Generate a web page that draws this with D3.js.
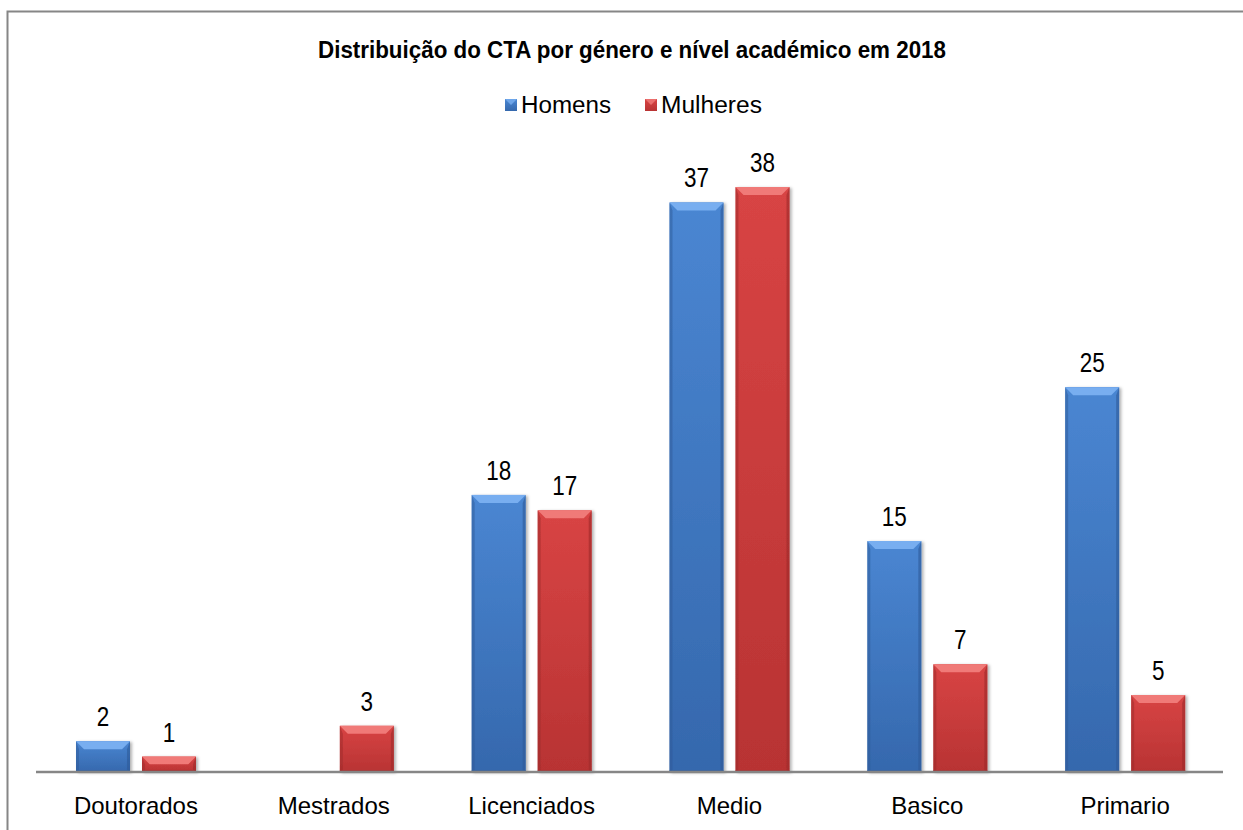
<!DOCTYPE html>
<html>
<head>
<meta charset="utf-8">
<script src="https://cdn.jsdelivr.net/npm/d3@7"></script>
<style>
  body { margin: 0; background: #fff; }
  svg { display: block; }
  text { font-family: "Liberation Sans", Arial, sans-serif; fill: #000; }
</style>
</head>
<body>
<div class="chart"></div>
<script>
var categories = ["Doutorados", "Mestrados", "Licenciados", "Medio", "Basico", "Primario"];
var seriesNames = ["Homens", "Mulheres"];
var homens = [2, null, 18, 37, 15, 25];
var mulheres = [1, 3, 17, 38, 7, 5];
var chartTitle = "Distribuição do CTA por género e nível académico em 2018";

var width = 1243, height = 830;
var margin = {top: 187, right: 19, bottom: 58, left: 37};
var baseY = height - margin.bottom;

var colors = {
  Homens:   {top: "#78aef0", mid: "#4a86d2", bot: "#3568ad", edge: "#2d5a98"},
  Mulheres: {top: "#f07a78", mid: "#d84444", bot: "#b83333", edge: "#9c2a2a"}
};

var svg = d3.select("div.chart").append("svg")
    .attr("width", width)
    .attr("height", height);

var defs = svg.append("defs");
seriesNames.forEach(function(s) {
  var g = defs.append("linearGradient")
      .attr("id", "grad_" + s)
      .attr("x1", 0).attr("y1", 0).attr("x2", 0).attr("y2", 1);
  g.append("stop").attr("offset", "0%").attr("stop-color", colors[s].mid);
  g.append("stop").attr("offset", "100%").attr("stop-color", colors[s].bot);
});
var shadow = defs.append("filter").attr("id", "shadow")
    .attr("x", "-20%").attr("y", "-20%").attr("width", "140%").attr("height", "140%");
shadow.append("feDropShadow")
    .attr("dx", 2).attr("dy", 1).attr("stdDeviation", 1.5)
    .attr("flood-color", "#000").attr("flood-opacity", 0.3);

// frame (cut at right and bottom as in the picture)
svg.append("path")
    .attr("d", "M7.5," + height + "V11.5H" + width)
    .attr("fill", "none")
    .attr("stroke", "#868686")
    .attr("stroke-width", 2);

var x0 = d3.scaleBand()
    .domain(categories)
    .range([margin.left, width - margin.right]);

var x1 = d3.scaleBand()
    .domain(seriesNames)
    .range([39, 159])
    .paddingInner(0.182);

var y = d3.scaleLinear()
    .domain([0, 38])
    .range([baseY, margin.top]);

// title
svg.append("text")
    .attr("x", 632)
    .attr("y", 58)
    .attr("text-anchor", "middle")
    .attr("textLength", 628)
    .attr("lengthAdjust", "spacingAndGlyphs")
    .style("font-size", "23px")
    .style("font-weight", "bold")
    .text(chartTitle);

// legend
var legendX = {Homens: 505, Mulheres: 645};
var legend = svg.selectAll(".legend")
    .data(seriesNames)
  .enter().append("g")
    .attr("class", "legend")
    .attr("transform", function(d) { return "translate(" + legendX[d] + ",99)"; });
legend.append("rect")
    .attr("width", 12).attr("height", 12)
    .attr("fill", function(d) { return "url(#grad_" + d + ")"; });
legend.append("path")
    .attr("d", "M0,0H12L6,6Z")
    .attr("fill", function(d) { return colors[d].top; })
    .attr("opacity", 0.8);
legend.append("text")
    .attr("x", 16)
    .attr("y", 14)
    .style("font-size", "23px")
    .attr("textLength", function(d) { return d == "Homens" ? 90 : 101; })
    .attr("lengthAdjust", "spacingAndGlyphs")
    .text(function(d) { return d; });

// bars
var data = [];
categories.forEach(function(c, i) {
  data.push({cat: c, series: "Homens", value: homens[i]});
  data.push({cat: c, series: "Mulheres", value: mulheres[i]});
});
data = data.filter(function(d) { return d.value != null; });

var bars = svg.selectAll(".bar")
    .data(data)
  .enter().append("g")
    .attr("class", "bar")
    .attr("filter", "url(#shadow)");

bars.each(function(d) {
  var g = d3.select(this);
  var bx = x0(d.cat) + x1(d.series);
  var bw = x1.bandwidth();
  var by = y(d.value);
  var bh = baseY - by;
  var b = Math.min(8, bh / 2);
  var c = colors[d.series];

  g.append("rect")
      .attr("x", bx).attr("y", by)
      .attr("width", bw).attr("height", bh)
      .attr("fill", "url(#grad_" + d.series + ")");
  // top bevel
  g.append("path")
      .attr("d", "M" + bx + "," + by + "H" + (bx + bw) + "L" + (bx + bw - b) + "," + (by + b) +
                 "H" + (bx + b) + "Z")
      .attr("fill", c.top);
  // side bevels
  g.append("path")
      .attr("d", "M" + bx + "," + by + "L" + (bx + 3) + "," + (by + b) + "V" + (baseY - 2) +
                 "L" + bx + "," + baseY + "Z")
      .attr("fill", c.edge).attr("opacity", 0.5);
  g.append("path")
      .attr("d", "M" + (bx + bw) + "," + by + "L" + (bx + bw - 3) + "," + (by + b) + "V" + (baseY - 2) +
                 "L" + (bx + bw) + "," + baseY + "Z")
      .attr("fill", c.edge).attr("opacity", 0.6);
  // bottom edge
  g.append("rect")
      .attr("x", bx).attr("y", baseY - 2)
      .attr("width", bw).attr("height", 2)
      .attr("fill", c.edge).attr("opacity", 0.6);
});

// value labels
svg.selectAll(".label")
    .data(data)
  .enter().append("text")
    .attr("class", "label")
    .attr("x", function(d) { return x0(d.cat) + x1(d.series) + x1.bandwidth() / 2; })
    .attr("y", function(d) { return y(d.value) - 15; })
    .attr("text-anchor", "middle")
    .attr("textLength", function(d) { return String(d.value).length * 12.5; })
    .attr("lengthAdjust", "spacingAndGlyphs")
    .style("font-size", "28px")
    .text(function(d) { return d.value; });

// x axis
var xAxis = d3.axisBottom(x0).tickSize(0);
var axisG = svg.append("g")
    .attr("class", "x axis")
    .attr("transform", "translate(0," + baseY + ")")
    .call(xAxis);
axisG.select(".domain")
    .attr("stroke", "#868686")
    .attr("stroke-width", 2.5)
    .attr("d", "M" + (margin.left - 1) + ",0H" + (width - margin.right - 1));
axisG.selectAll(".tick text")
    .style("font-size", "24px")
    .style("font-family", "'Liberation Sans', Arial, sans-serif")
    .attr("fill", "#000")
    .attr("y", 42)
    .attr("dy", 0);
</script>
</body>
</html>
